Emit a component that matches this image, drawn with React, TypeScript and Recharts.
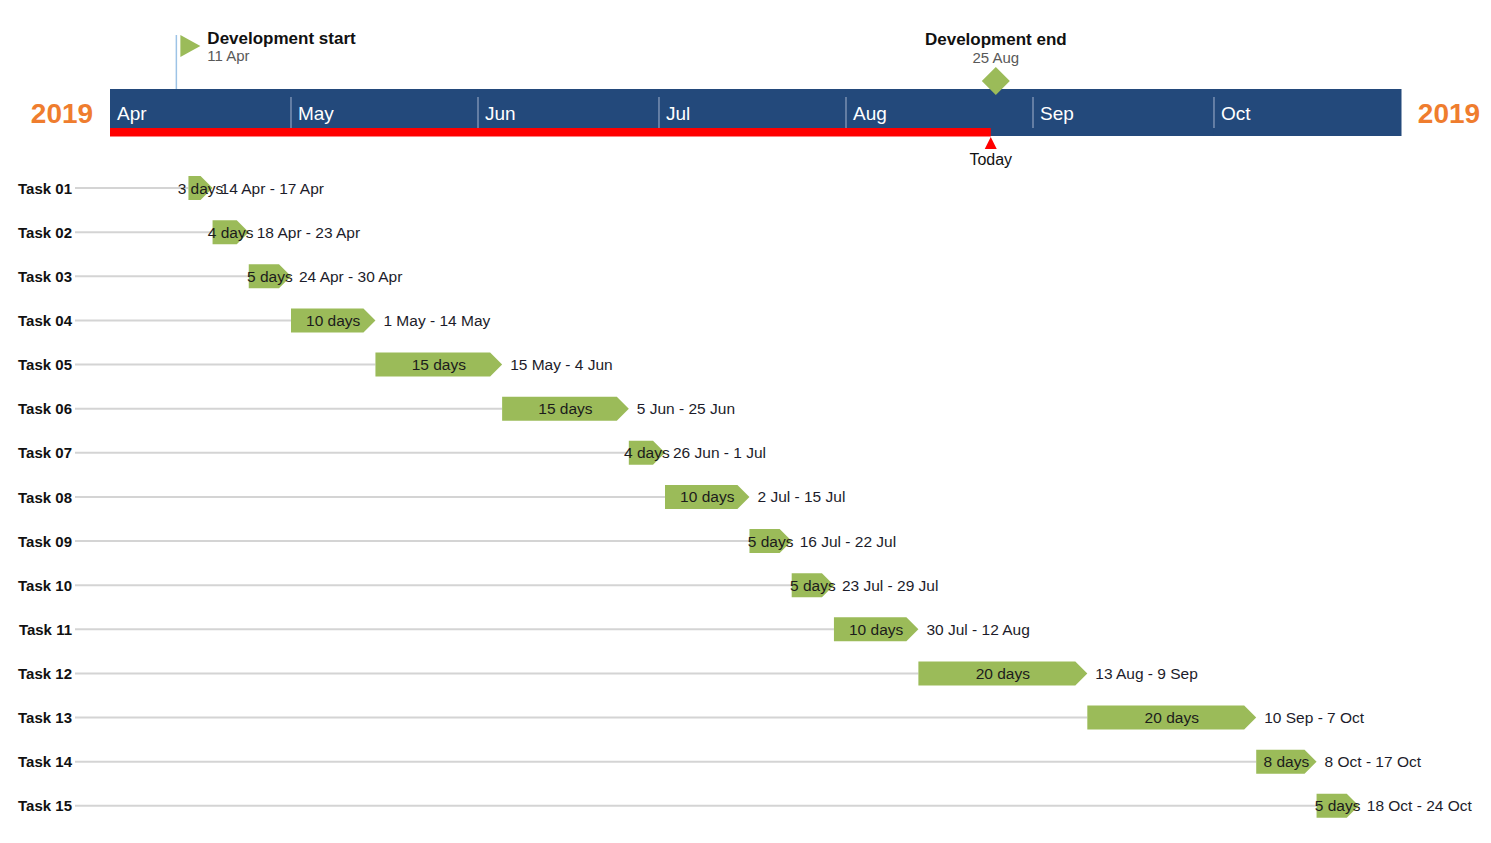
import { Bar, ComposedChart, ReferenceArea, ReferenceLine, XAxis, YAxis } from "recharts";

const taskNames = ["Task 01", "Task 02", "Task 03", "Task 04", "Task 05", "Task 06", "Task 07", "Task 08", "Task 09", "Task 10", "Task 11", "Task 12", "Task 13", "Task 14", "Task 15"];
const startDates = ["2019-04-14", "2019-04-18", "2019-04-24", "2019-05-01", "2019-05-15", "2019-06-05", "2019-06-26", "2019-07-02", "2019-07-16", "2019-07-23", "2019-07-30", "2019-08-13", "2019-09-10", "2019-10-08", "2019-10-18"];
const endDates = ["2019-04-17", "2019-04-23", "2019-04-30", "2019-05-14", "2019-06-04", "2019-06-25", "2019-07-01", "2019-07-15", "2019-07-22", "2019-07-29", "2019-08-12", "2019-09-09", "2019-10-07", "2019-10-17", "2019-10-24"];
const workDays = [3, 4, 5, 10, 15, 15, 4, 10, 5, 5, 10, 20, 20, 8, 5];
const rangeLabels = ["14 Apr - 17 Apr", "18 Apr - 23 Apr", "24 Apr - 30 Apr", "1 May - 14 May", "15 May - 4 Jun", "5 Jun - 25 Jun", "26 Jun - 1 Jul", "2 Jul - 15 Jul", "16 Jul - 22 Jul", "23 Jul - 29 Jul", "30 Jul - 12 Aug", "13 Aug - 9 Sep", "10 Sep - 7 Oct", "8 Oct - 17 Oct", "18 Oct - 24 Oct"];

const monthNames = ["Apr", "May", "Jun", "Jul", "Aug", "Sep", "Oct"];
const monthStarts = ["2019-04-01", "2019-05-01", "2019-06-01", "2019-07-01", "2019-08-01", "2019-09-01", "2019-10-01", "2019-11-01"];
const yearLabel = "2019";

const startMilestone = { title: "Development start", label: "11 Apr", date: "2019-04-11" };
const endMilestone = { title: "Development end", label: "25 Aug", date: "2019-08-25" };
const todayDate = "2019-08-25";

const FONT = "'Liberation Sans', Arial, sans-serif";
const GREEN = "#9BBB59";
const NAVY = "#23497B";

const ORIGIN = Date.UTC(2019, 3, 1);
function dayIndex(iso: string) {
  const [y, m, d] = iso.split("-").map(Number);
  return Math.round((Date.UTC(y, m - 1, d) - ORIGIN) / 86400000);
}

const rows = taskNames.map((name, i) => {
  const start = dayIndex(startDates[i]);
  const end = dayIndex(endDates[i]) + 1;
  return { name, lead: start, span: end - start, days: workDays[i], range: rangeLabels[i] };
});

const domainEnd = dayIndex(monthStarts[monthStarts.length - 1]);

function LeadLine(props: any) {
  const { x, y, width, height } = props;
  const cy = y + height / 2;
  return <line x1={x - 35} x2={x + width} y1={cy} y2={cy} stroke="#D4D4D4" strokeWidth={2} />;
}

function TaskArrow(props: any) {
  const { x, y, width, height } = props;
  const p = props.payload ?? props;
  const tip = Math.min(12, width);
  const cy = y + height / 2;
  const d = `M${x},${y} L${x + width - tip},${y} L${x + width},${cy} L${x + width - tip},${y + height} L${x},${y + height} Z`;
  return (
    <g>
      <path d={d} fill={GREEN} />
      <text x={x + width / 2} y={cy} textAnchor="middle" dominantBaseline="central" fontSize={15.5} fill="#1c1c1c" fontFamily={FONT}>
        {p.days} days
      </text>
      <text x={x + width + 8} y={cy} dominantBaseline="central" fontSize={15.5} fill="#1c1c2a" fontFamily={FONT}>
        {p.range}
      </text>
    </g>
  );
}

function MonthCell(props: any) {
  const { x, y, width, name, first, last } = props;
  return (
    <g>
      <rect x={x} y={y - 77} width={width + 0.5} height={47} fill={NAVY} />
      {!first && <line x1={x} x2={x} y1={y - 69} y2={y - 38} stroke="#7A90B2" strokeWidth={1.5} />}
      <text x={x + 7} y={y - 53} dominantBaseline="central" fontSize={19} fill="#ffffff" fontFamily={FONT}>
        {name}
      </text>
      {first && (
        <text x={x - 48} y={y - 53} textAnchor="middle" dominantBaseline="central" fontSize={28} fontWeight="bold" fill="#EF7D2E" fontFamily={FONT}>
          {yearLabel}
        </text>
      )}
      {last && (
        <text x={x + width + 48} y={y - 53} textAnchor="middle" dominantBaseline="central" fontSize={28} fontWeight="bold" fill="#EF7D2E" fontFamily={FONT}>
          {yearLabel}
        </text>
      )}
    </g>
  );
}

function ProgressStrip(props: any) {
  const { x, y, width } = props;
  return <rect x={x} y={y - 38} width={width} height={8.5} fill="#FF0000" />;
}

function topOf(props: any) {
  return Math.min(props.y1, props.y2);
}

function TodayMarker(props: any) {
  const cx = props.x1;
  const top = topOf(props);
  return (
    <g>
      <polygon points={`${cx},${top - 29} ${cx - 6},${top - 17} ${cx + 6},${top - 17}`} fill="#FF0000" />
      <text x={cx} y={top - 7} textAnchor="middle" dominantBaseline="central" fontSize={16} fill="#111" fontFamily={FONT}>
        Today
      </text>
    </g>
  );
}

function StartFlag(props: any) {
  const cx = props.x1;
  const top = topOf(props);
  return (
    <g>
      <line x1={cx} x2={cx} y1={top - 131} y2={top - 77} stroke="#9DC3E6" strokeWidth={1.5} />
      <polygon points={`${cx + 4},${top - 131} ${cx + 4},${top - 109} ${cx + 24},${top - 120}`} fill={GREEN} />
      <text x={cx + 31} y={top - 128} dominantBaseline="central" fontSize={17} fontWeight="bold" fill="#111" fontFamily={FONT}>
        {startMilestone.title}
      </text>
      <text x={cx + 31} y={top - 111} dominantBaseline="central" fontSize={15} fill="#595959" fontFamily={FONT}>
        {startMilestone.label}
      </text>
    </g>
  );
}

function EndDiamond(props: any) {
  const cx = props.x1 - 1;
  const top = topOf(props);
  const cy = top - 85;
  return (
    <g>
      <text x={cx} y={top - 127} textAnchor="middle" dominantBaseline="central" fontSize={17} fontWeight="bold" fill="#111" fontFamily={FONT}>
        {endMilestone.title}
      </text>
      <text x={cx} y={top - 109} textAnchor="middle" dominantBaseline="central" fontSize={15} fill="#595959" fontFamily={FONT}>
        {endMilestone.label}
      </text>
      <polygon points={`${cx},${cy - 14} ${cx + 14},${cy} ${cx},${cy + 14} ${cx - 14},${cy}`} fill={GREEN} />
    </g>
  );
}

function TaskTick(props: any) {
  const { y, payload } = props;
  return (
    <text x={72} y={y} textAnchor="end" dominantBaseline="central" fontSize={15} fontWeight="bold" fill="#111" fontFamily={FONT}>
      {payload.value}
    </text>
  );
}

export default function App() {
  return (
    <div style={{ position: "absolute", left: 0, top: 0, width: 1491, height: 843, background: "#fff", fontFamily: FONT }}>
      <ComposedChart width={1491} height={843} data={rows} layout="vertical" margin={{ top: 166, right: 90, bottom: 15, left: 0 }} barSize={24}>
        <XAxis type="number" domain={[0, domainEnd]} hide />
        <YAxis type="category" dataKey="name" width={110} axisLine={false} tickLine={false} tick={<TaskTick />} interval={0} />
        {monthNames.map((m, i) => (
          <ReferenceArea
            key={m}
            x1={dayIndex(monthStarts[i])}
            x2={dayIndex(monthStarts[i + 1])}
            ifOverflow="visible"
            shape={(p: any) => <MonthCell {...p} name={m} first={i === 0} last={i === monthNames.length - 1} />}
          />
        ))}
        <ReferenceArea x1={0} x2={dayIndex(todayDate)} ifOverflow="visible" shape={(p: any) => <ProgressStrip {...p} />} />
        <ReferenceLine x={dayIndex(todayDate)} ifOverflow="visible" shape={(p: any) => <TodayMarker {...p} />} />
        <ReferenceLine x={dayIndex(startMilestone.date) + 1} ifOverflow="visible" shape={(p: any) => <StartFlag {...p} />} />
        <ReferenceLine x={dayIndex(endMilestone.date) + 1} ifOverflow="visible" shape={(p: any) => <EndDiamond {...p} />} />
        <Bar dataKey="lead" stackId="t" shape={<LeadLine />} isAnimationActive={false} />
        <Bar dataKey="span" stackId="t" shape={<TaskArrow />} isAnimationActive={false} />
      </ComposedChart>
    </div>
  );
}
